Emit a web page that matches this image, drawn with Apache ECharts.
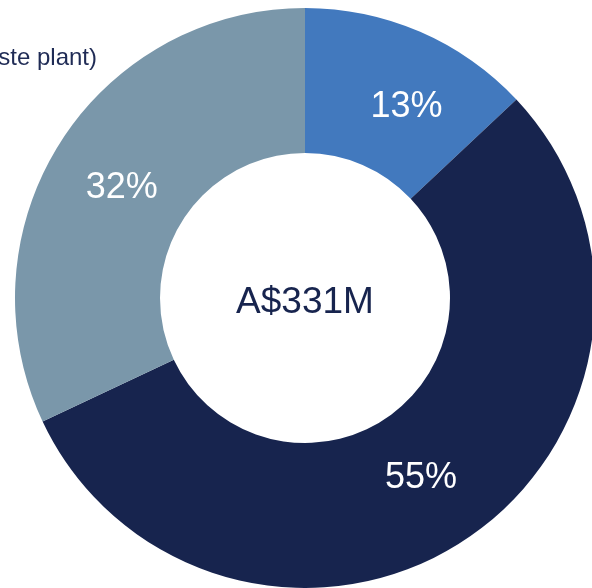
<!DOCTYPE html>
<html>
<head>
<meta charset="utf-8">
<script src="https://cdn.jsdelivr.net/npm/echarts@6/dist/echarts.min.js"></script>
<style>html,body{margin:0;padding:0;background:#fff}#c{width:592px;height:588px}</style>
</head>
<body>
<div id="c"></div>
<script>
const categories = ['Segment A', 'Segment B', 'Segment C'];
const values = [13, 55, 32];
const centerText = 'A$331M';
const sideText = 'ste plant)';

// styling (kept separate from data)
const colors = ['#4279be', '#17244e', '#7a97aa'];
const labelOffsets = [[14, 11], [-8, -2], [3, 8]];
const FONT = '"Liberation Sans", Arial, sans-serif';

const chart = echarts.init(document.getElementById('c'), null, {renderer: 'canvas'});
chart.setOption({
  animation: false,
  graphic: [{
    type: 'text', x: 97, y: 58, z: 100,
    style: {text: sideText, fill: '#1f2b55', font: '24px ' + FONT, align: 'right', verticalAlign: 'middle'}
  }],
  series: [{
    type: 'pie',
    center: [305, 298],
    radius: [145, 290],
    startAngle: 90,
    clockwise: true,
    silent: true,
    data: categories.map((n, i) => ({
      name: n, value: values[i],
      itemStyle: {color: colors[i]},
      label: {offset: labelOffsets[i]}
    })),
    label: {
      show: true, position: 'inside',
      formatter: p => p.value + '%',
      color: '#fff', fontSize: 36, fontFamily: FONT
    },
    labelLine: {show: false},
    itemStyle: {borderWidth: 0}
  }, {
    type: 'pie', center: [305, 303], radius: [0, 0], silent: true,
    data: [{value: 1, name: centerText}],
    label: {show: true, position: 'center', formatter: centerText, color: '#17244e', fontSize: 37, fontFamily: FONT},
    labelLine: {show: false}
  }]
});
</script>
</body>
</html>
